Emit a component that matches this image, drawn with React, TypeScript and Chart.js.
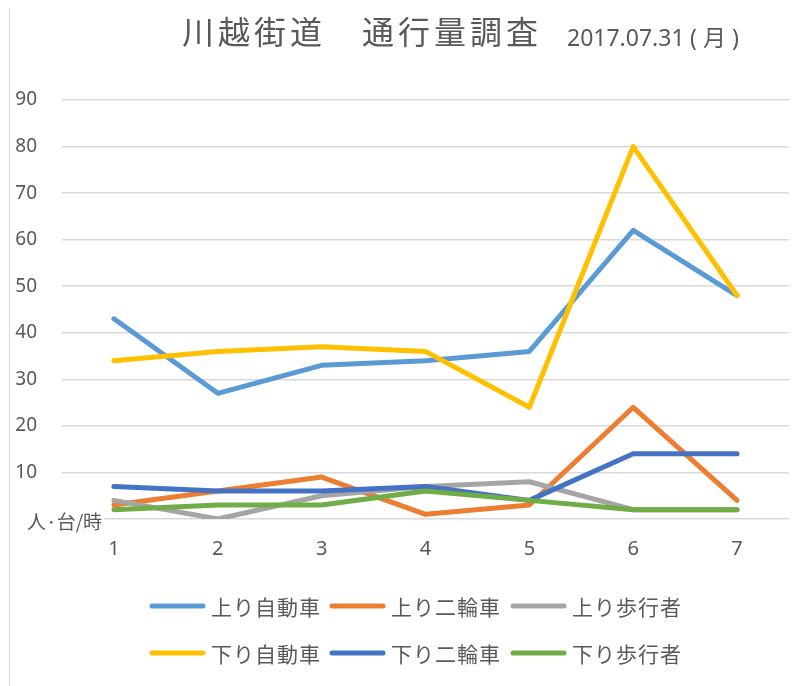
import React, { useEffect, useRef } from "react";
import { Chart, registerables } from "chart.js";

Chart.register(...registerables);

const categories = ["1", "2", "3", "4", "5", "6", "7"];
const seriesNames = ["上り自動車", "上り二輪車", "上り歩行者", "下り自動車", "下り二輪車", "下り歩行者"];
const upCars = [43, 27, 33, 34, 36, 62, 48];
const upBikes = [3, 6, 9, 1, 3, 24, 4];
const upWalkers = [4, 0, 5, 7, 8, 2, 2];
const downCars = [34, 36, 37, 36, 24, 80, 48];
const downBikes = [7, 6, 6, 7, 4, 14, 14];
const downWalkers = [2, 3, 3, 6, 4, 2, 2];
const seriesColors = ["#5B9BD5", "#ED7D31", "#A5A5A5", "#FFC000", "#4472C4", "#70AD47"];
const titleText = "川越街道　通行量調査";
const dateText = "2017.07.31";
const dayText = "(月)";
const unitText = "人·台/時";

const TEXT = "#595959";
const CJK = '"Noto Sans CJK JP", "Noto Sans", sans-serif';
const NUM = '"Noto Sans", "Noto Sans CJK JP", sans-serif';

const overlayPlugin = {
  id: "overlay",
  afterDraw(chart: any) {
    const ctx = chart.ctx;
    ctx.save();
    // title
    ctx.fillStyle = TEXT;
    ctx.textBaseline = "alphabetic";
    ctx.textAlign = "left";
    ctx.font = `32px ${CJK}`;
    (ctx as any).letterSpacing = "4px";
    ctx.fillText(titleText, 172, 36);
    (ctx as any).letterSpacing = "0px";
    ctx.font = `23px ${NUM}`;
    ctx.fillText(dateText, 557, 38);
    (ctx as any).letterSpacing = "6px";
    ctx.fillText(dayText, 680, 38);
    (ctx as any).letterSpacing = "0px";

    // unit label with white box
    ctx.font = `19px ${CJK}`;
    const w = ctx.measureText(unitText).width;
    ctx.fillStyle = "#ffffff";
    ctx.fillRect(15, 502, w + 4, 24);
    ctx.fillStyle = TEXT;
    ctx.textBaseline = "middle";
    ctx.fillText(unitText, 17, 514);

    // legend
    const cols = [140, 320, 501];
    const rows = [598, 645];
    ctx.font = `21px ${CJK}`;
    (ctx as any).letterSpacing = "1px";
    chart.data.datasets.forEach((ds: any, i: number) => {
      const x = cols[i % 3];
      const y = rows[Math.floor(i / 3)];
      ctx.strokeStyle = ds.borderColor;
      ctx.lineWidth = 5;
      ctx.lineCap = "round";
      ctx.beginPath();
      ctx.moveTo(x + 2, y);
      ctx.lineTo(x + 53, y);
      ctx.stroke();
      ctx.fillStyle = TEXT;
      ctx.textBaseline = "middle";
      ctx.fillText(ds.label, x + 61, y + 1);
    });
    ctx.restore();
  },
};

export default function App() {
  const ref = useRef<HTMLCanvasElement>(null);
  useEffect(() => {
    const values = [upCars, upBikes, upWalkers, downCars, downBikes, downWalkers];
    const chart = new Chart(ref.current!, {
      type: "line",
      data: {
        labels: categories,
        datasets: values.map((v, i) => ({
          label: seriesNames[i],
          data: v,
          borderColor: seriesColors[i],
          backgroundColor: seriesColors[i],
          borderWidth: 5,
          borderCapStyle: "round",
          borderJoinStyle: "round",
          pointRadius: 0,
          pointHoverRadius: 0,
          tension: 0,
          fill: false,
          order: 6 - i,
        })),
      },
      options: {
        animation: false,
        responsive: true,
        maintainAspectRatio: false,
        layout: { padding: { top: 92, left: 3, right: 22, bottom: 113 } },
        plugins: {
          legend: { display: false },
          title: { display: false },
          tooltip: { enabled: false },
        },
        scales: {
          x: {
            offset: true,
            grid: { display: false, drawTicks: false },
            border: { display: false },
            ticks: { color: TEXT, font: { family: NUM, size: 20 }, padding: 18, maxRotation: 0 },
          },
          y: {
            min: 0,
            max: 90,
            afterFit(scale: any) {
              scale.width = 49;
            },
            grid: { color: "#d9d9d9", lineWidth: 1.5, drawTicks: false },
            border: { display: false },
            ticks: { stepSize: 10, color: TEXT, font: { family: NUM, size: 19 }, padding: 25 },
          },
        },
      },
      plugins: [overlayPlugin],
    });
    return () => chart.destroy();
  }, []);
  return (
    <div
      style={{
        width: 801,
        height: 684,
        border: "1px solid #d9d9d9",
        marginLeft: 1,
        marginTop: -1,
        position: "relative",
        background: "#fff",
      }}
    >
      <canvas ref={ref} />
    </div>
  );
}
